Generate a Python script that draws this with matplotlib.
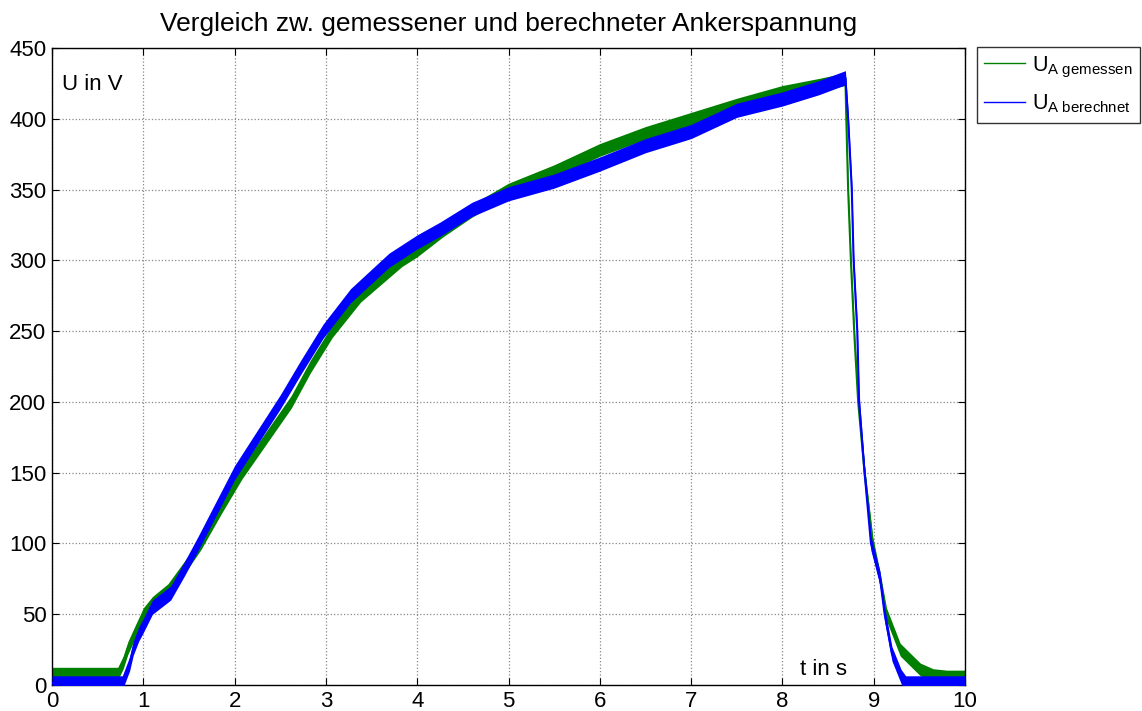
import matplotlib
matplotlib.use("Agg")
import matplotlib.pyplot as plt
import numpy as np

plt.rcParams['font.family'] = ['Liberation Sans', 'DejaVu Sans']
plt.rcParams['mathtext.fontset'] = 'custom'
plt.rcParams['mathtext.rm'] = 'Liberation Sans'
plt.rcParams['mathtext.it'] = 'Liberation Sans'

t_gem = [0, 0.72, 0.78, 0.83, 0.9, 1.0, 1.1, 1.27, 1.45, 1.63, 1.85, 2.08, 2.35, 2.62,
         2.83, 3.07, 3.38, 3.83, 4.0, 4.28, 4.6, 5.0, 5.5, 6.0, 6.5, 7.0, 7.5, 8.0, 8.4,
         8.69, 8.70, 8.72, 8.75, 8.79, 8.83, 8.9, 8.99, 9.07, 9.14, 9.29, 9.51, 9.65,
         9.8, 10.0]
u_gem = [8, 8, 16, 26, 36, 50, 58, 67, 83, 100, 125, 150, 175, 200,
         225, 250, 275, 300, 307, 321, 335, 350, 363, 378, 390, 400, 410, 419, 424,
         428, 400, 350, 300, 245, 200, 150, 100, 75, 50, 25, 11, 7,
         6, 6]
# halbe Breite des Rauschbands in V
s_gem = 4.5

# berechnete Ankerspannung
t_ber = [0, 0.77, 0.85, 0.89, 0.95, 1.0, 1.1, 1.3, 1.45, 1.6, 1.8, 2.0, 2.25, 2.5,
         2.73, 2.97, 3.27, 3.69, 4.0, 4.25, 4.6, 5.0, 5.5, 6.0, 6.5, 7.0, 7.5, 8.0,
         8.4, 8.69, 8.72, 8.76, 8.78, 8.82, 8.84, 8.9, 8.97, 9.07, 9.12, 9.2, 9.3,
         9.35, 10.0]
u_ber = [1.5, 1.5, 15, 26, 36, 42, 55, 65, 82, 100, 125, 150, 175, 200,
         225, 250, 275, 300, 313, 322, 336, 347, 356, 368, 381, 391, 406, 414,
         422, 429, 400, 350, 300, 250, 200, 150, 100, 75, 50, 22, 6,
         1.5, 1.5]
s_ber = 5.0

x_ticks = list(range(0, 11))
y_ticks = list(range(0, 451, 50))

fig = plt.figure(figsize=(11.42, 7.11), dpi=100)
ax = fig.add_axes([52/1142, 1 - 685/711, 913/1142, 637/711])

green = '#008000'
blue = '#0000ff'

ug = np.array(u_gem)
ub = np.array(u_ber)
ax.fill_between(t_gem, ug - s_gem, ug + s_gem, color=green, lw=0, zorder=2)
ax.plot(t_gem, u_gem, color=green, lw=1.5, zorder=2, label=r'U$_\mathrm{A\ gemessen}$')
ax.fill_between(t_ber, ub - s_ber, ub + s_ber, color=blue, lw=0, zorder=3)
ax.plot(t_ber, u_ber, color=blue, lw=1.5, zorder=3, label=r'U$_\mathrm{A\ berechnet}$')

ax.set_xlim(0, 10)
ax.set_ylim(0, 450)
ax.set_xticks(x_ticks)
ax.set_yticks(y_ticks)
ax.tick_params(direction='in', top=True, right=True, length=5, width=0.8,
               labelsize=16, pad=4)
ax.grid(True, linestyle=':', color='#888888', lw=0.9)
for sp in ax.spines.values():
    sp.set_linewidth(1.0)

ax.set_title('Vergleich zw. gemessener und berechneter Ankerspannung', fontsize=19, pad=12)
ax.text(0.11, 424, 'U in V', fontsize=16, va='center', ha='left')
ax.text(8.19, 11, 't in s', fontsize=16, va='center', ha='left')

leg = ax.legend(loc='upper left', bbox_to_anchor=(1.013, 1.0016), borderaxespad=0,
                fontsize=15.5, frameon=True, fancybox=False, handlelength=1.9,
                handletextpad=0.3, borderpad=0.35, labelspacing=0.6)
leg.get_frame().set_edgecolor('black')
leg.get_frame().set_linewidth(1.0)
for ln in leg.get_lines():
    ln.set_linewidth(1.0)

fig.savefig('out.png', dpi=100)
